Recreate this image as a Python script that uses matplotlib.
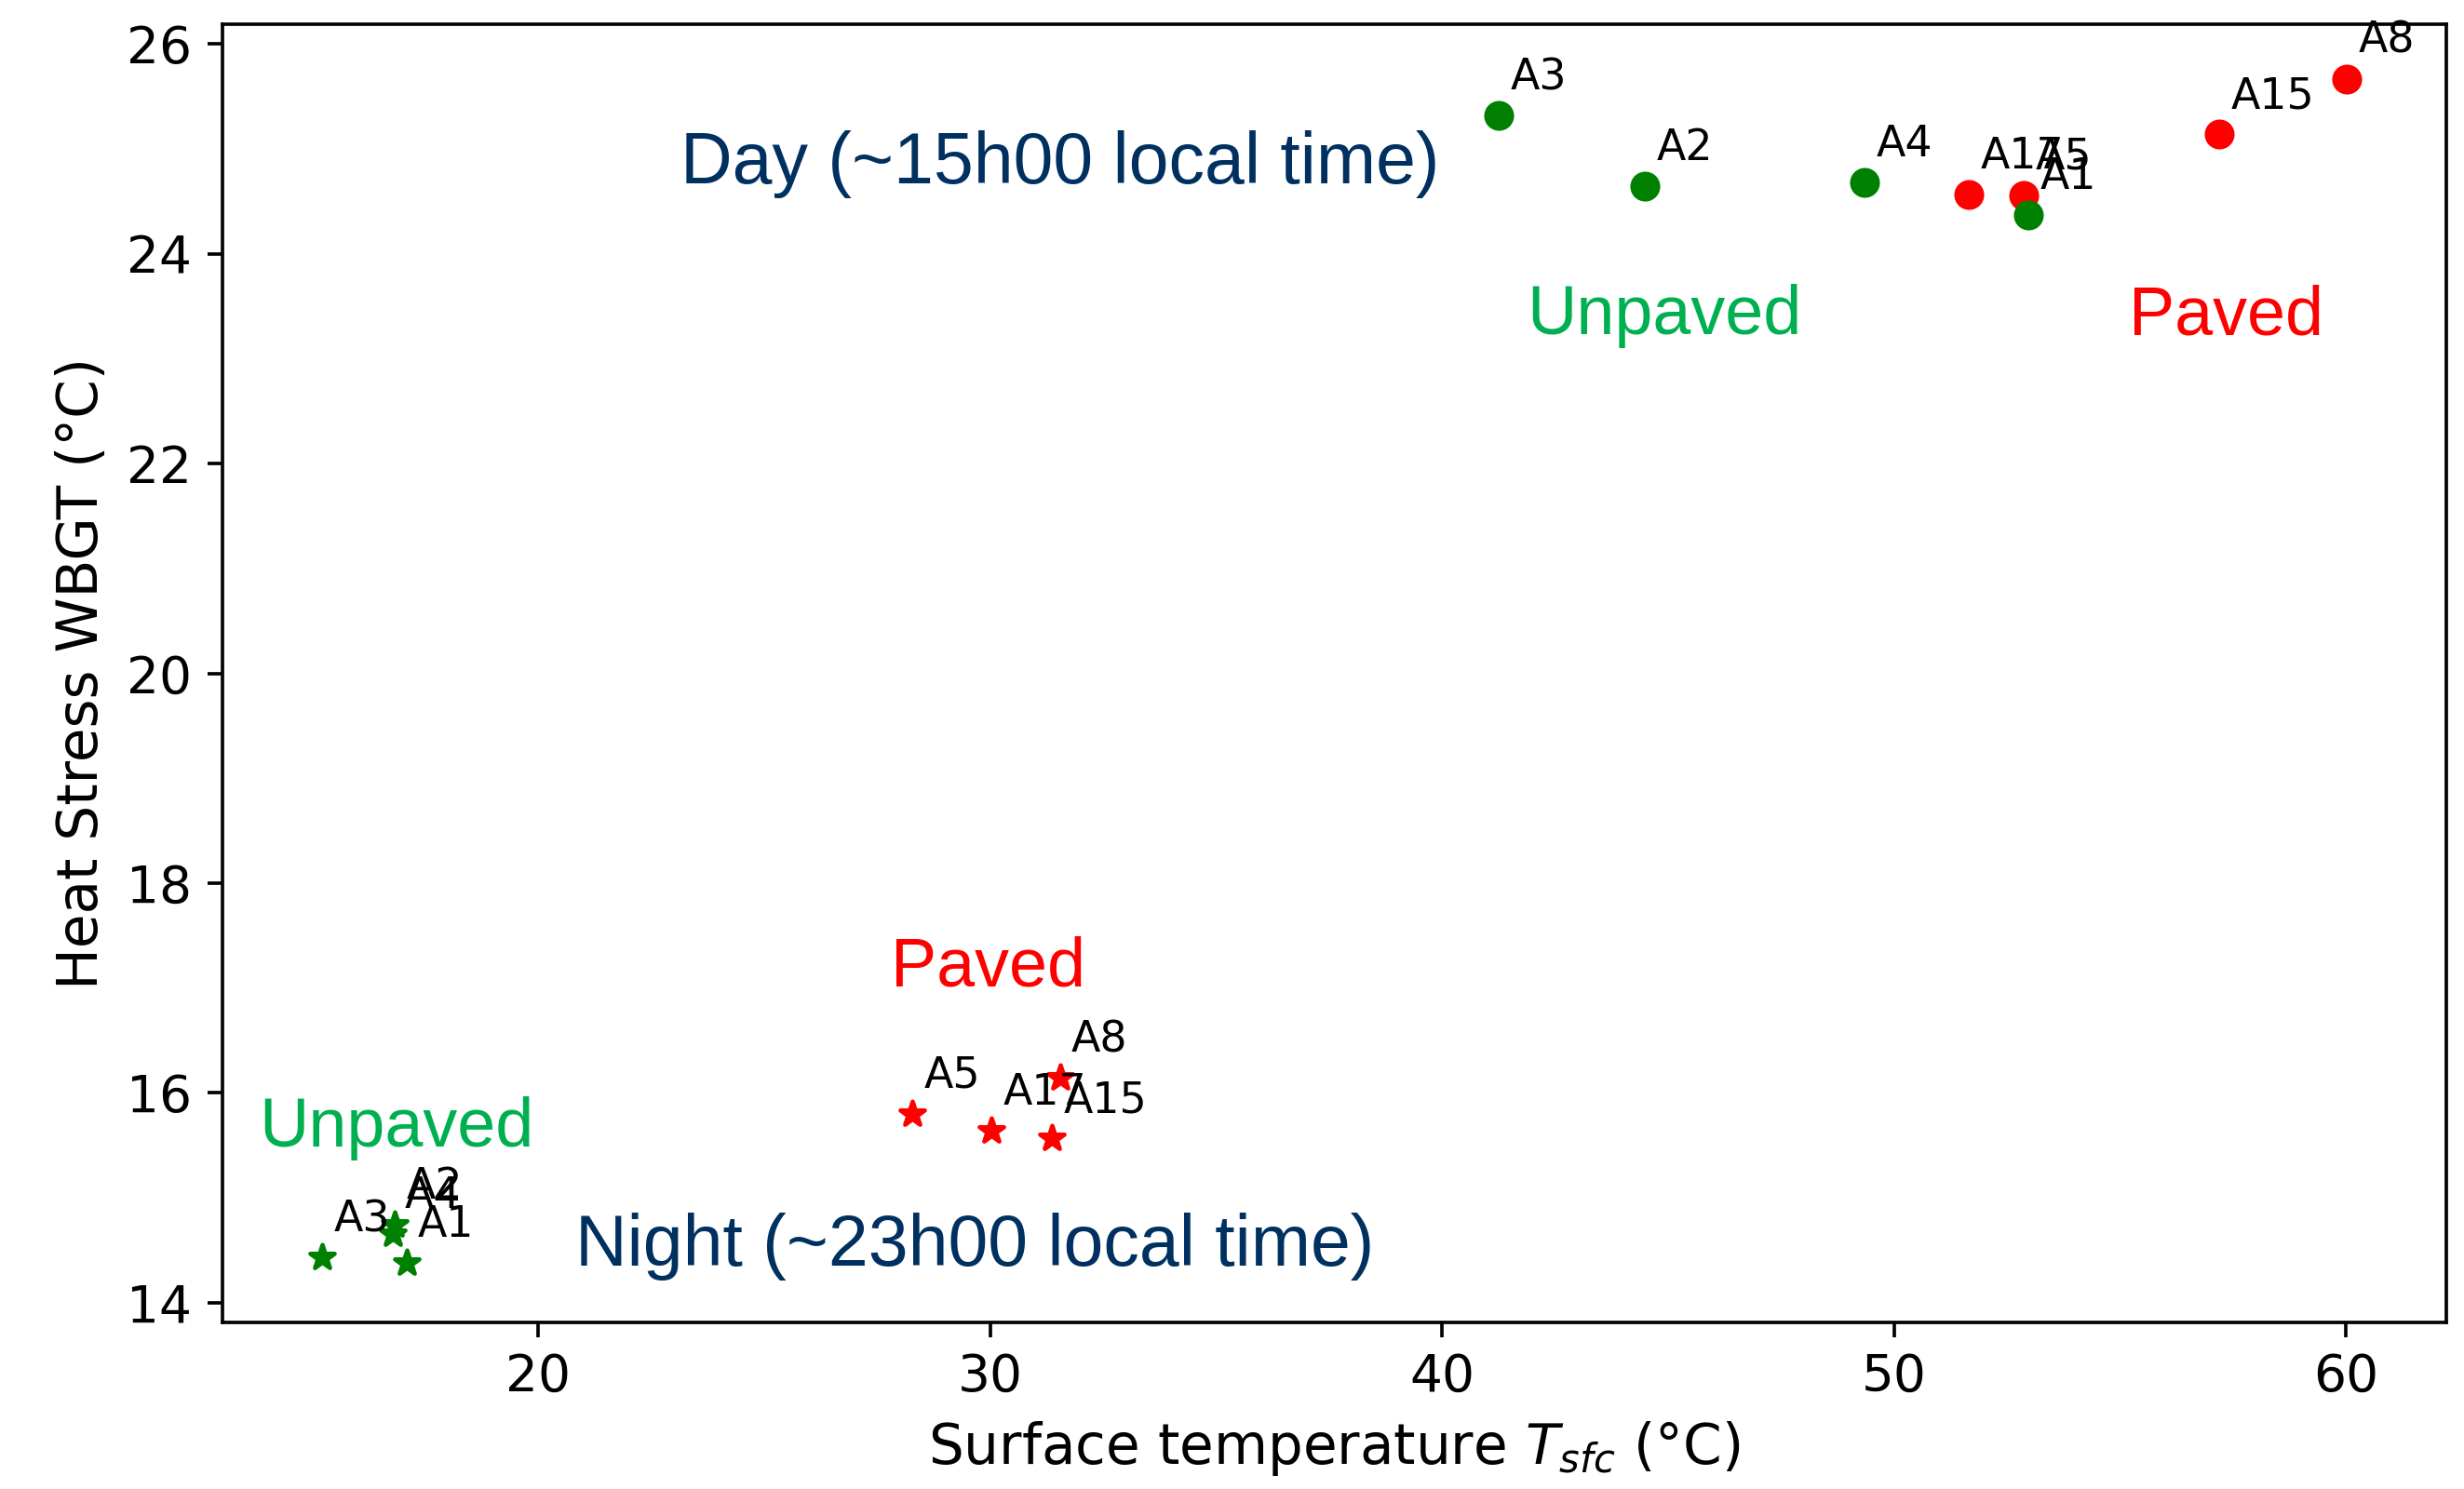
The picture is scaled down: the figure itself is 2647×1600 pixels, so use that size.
import matplotlib.pyplot as plt

# Day (~15h00): paved and unpaved sites
day_paved_names = ['A5', 'A8', 'A15', 'A17']
day_paved_tsfc = [52.87, 60.02, 57.2, 51.65]
day_paved_wbgt = [24.56, 25.67, 25.14, 24.57]

day_unpaved_names = ['A1', 'A2', 'A3', 'A4']
day_unpaved_tsfc = [52.97, 44.49, 41.25, 49.35]
day_unpaved_wbgt = [24.37, 24.65, 25.32, 24.68]

# Night (~23h00): paved and unpaved sites
night_paved_names = ['A5', 'A8', 'A15', 'A17']
night_paved_tsfc = [28.28, 31.54, 31.36, 30.03]
night_paved_wbgt = [15.80, 16.14, 15.565, 15.64]

night_unpaved_names = ['A1', 'A2', 'A3', 'A4']
night_unpaved_tsfc = [17.08, 16.82, 15.22, 16.78]
night_unpaved_wbgt = [14.38, 14.745, 14.43, 14.65]

W, H = 2647, 1600
DPI = 330
fig = plt.figure(figsize=(W / DPI, H / DPI), dpi=DPI)
ax = fig.add_axes([238.5 / W, 1 - 1421 / H, (2628 - 238.5) / W, (1421 - 26) / H])

# Paved first, unpaved on top (as in the original overlap).
ax.scatter(day_paved_tsfc, day_paved_wbgt, c='red')
ax.scatter(day_unpaved_tsfc, day_unpaved_wbgt, c='green')
ax.scatter(night_paved_tsfc, night_paved_wbgt, c='red', marker='*')
ax.scatter(night_unpaved_tsfc, night_unpaved_wbgt, c='green', marker='*')

# Site labels next to each point.
for names, xs, ys in [(day_paved_names, day_paved_tsfc, day_paved_wbgt),
                      (day_unpaved_names, day_unpaved_tsfc, day_unpaved_wbgt),
                      (night_paved_names, night_paved_tsfc, night_paved_wbgt),
                      (night_unpaved_names, night_unpaved_tsfc, night_unpaved_wbgt)]:
    for name, x, y in zip(names, xs, ys):
        ax.annotate(name, (x, y), xytext=(2.7, 6.1), textcoords='offset points',
                    fontsize=10)

ax.set_xlim(13.0, 62.22)
ax.set_ylim(13.81, 26.19)
ax.tick_params(labelsize=12)
ax.set_xlabel('Surface temperature $T_{sfc}$ (°C)', fontsize=13)
ax.set_ylabel('Heat Stress WBGT (°C)', fontsize=13)

# Overlaid group captions (placed in pixel coordinates, baseline-aligned).
navy = '#00305F'
green = '#00B050'
captions = [
    ('Day (~15h00 local time)', 731, 197, navy, 16.8),
    ('Unpaved', 1640, 359, green, 16.1),
    ('Paved', 2287, 359, 'red', 16.1),
    ('Paved', 957, 1060, 'red', 16.1),
    ('Unpaved', 278, 1232, green, 16.1),
    ('Night (~23h00 local time)', 618, 1360, navy, 16.8),
]
for txt, px, py, col, fs in captions:
    fig.text(px / W, 1 - py / H, txt, color=col, fontsize=fs,
             family='Liberation Sans', ha='left', va='baseline')

fig.savefig('out.png', dpi=DPI)
